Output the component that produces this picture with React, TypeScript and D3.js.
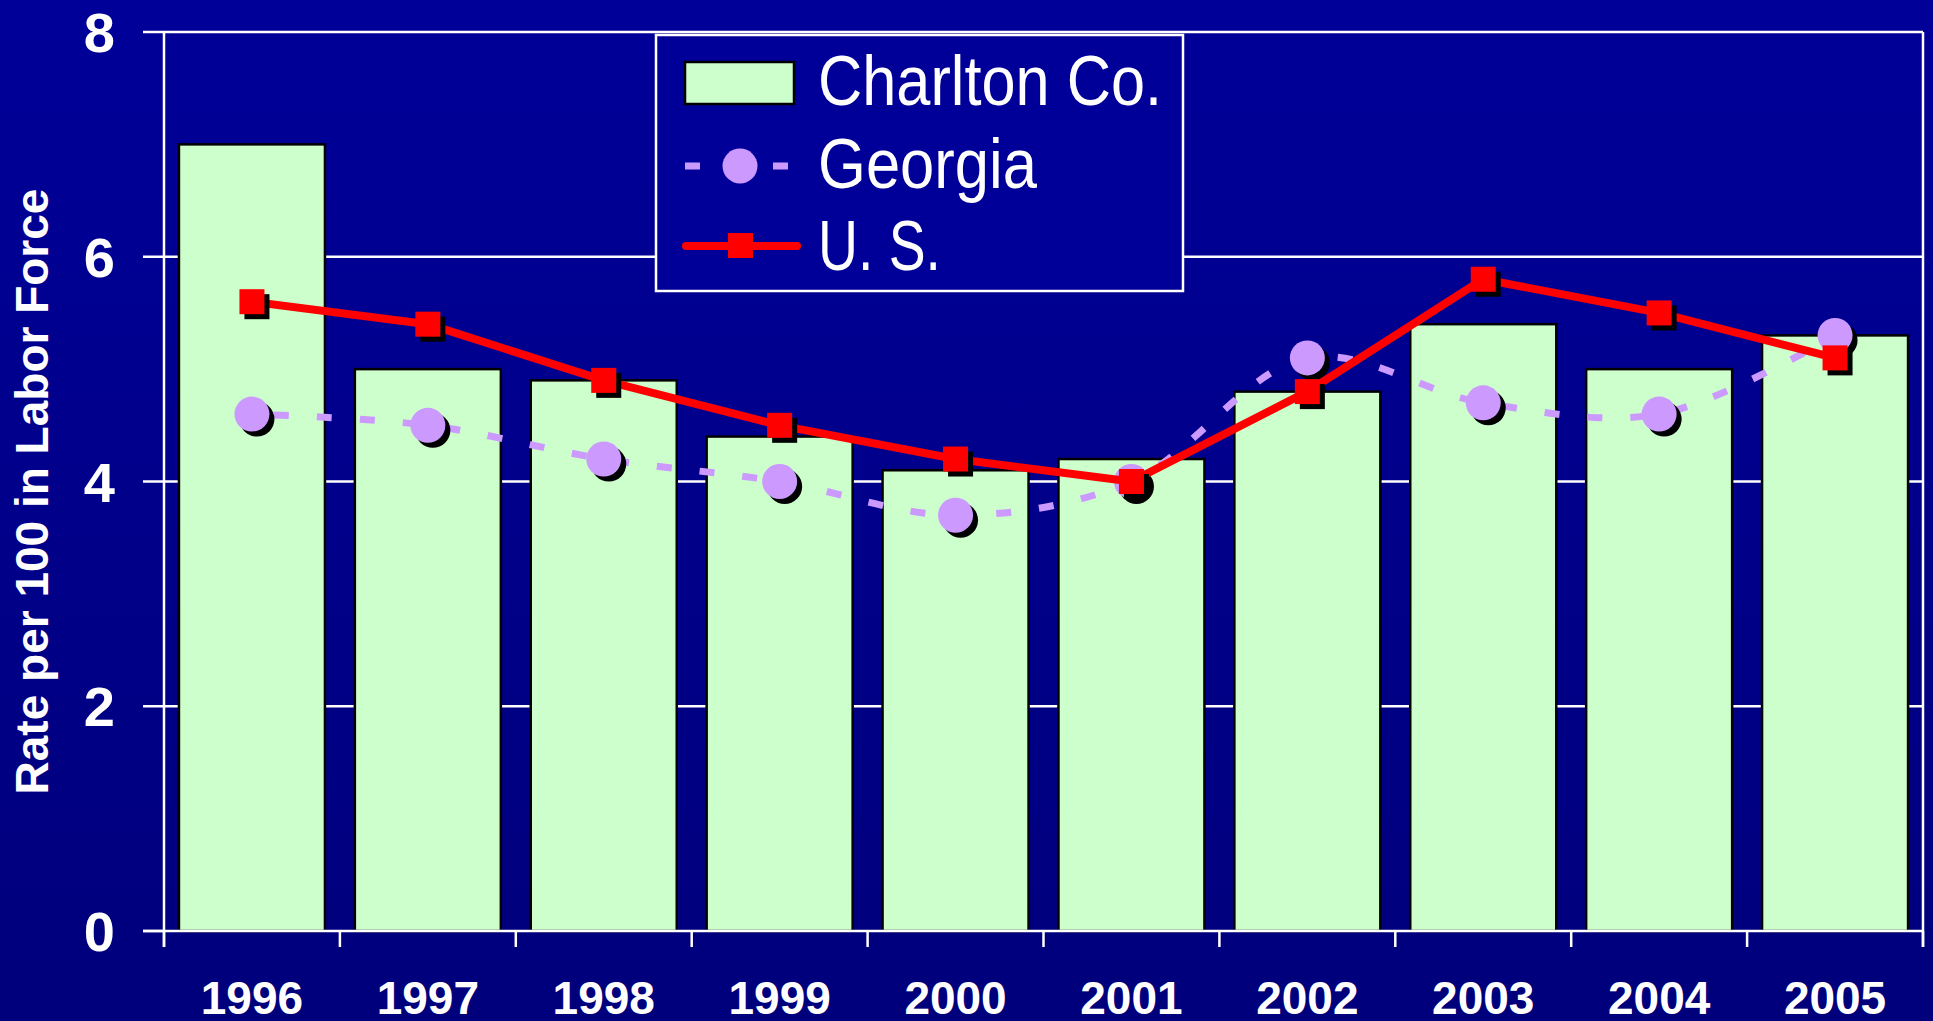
import React from 'react';
import * as d3 from 'd3';

const years = ['1996', '1997', '1998', '1999', '2000', '2001', '2002', '2003', '2004', '2005'];
const charlton = [7.0, 5.0, 4.9, 4.4, 4.1, 4.2, 4.8, 5.4, 5.0, 5.3];
const georgia = [4.6, 4.5, 4.2, 4.0, 3.7, 4.0, 5.1, 4.7, 4.6, 5.3];
const us = [5.6, 5.4, 4.9, 4.5, 4.2, 4.0, 4.8, 5.8, 5.5, 5.1];
const yTicks = [0, 2, 4, 6, 8];
const seriesNames = ['Charlton Co.', 'Georgia', 'U. S.'];
const legendWidths = [344, 219, 123];
const yTitle = 'Rate per 100 in Labor Force';

const W = 1933;
const H = 1021;
const left = 164;
const right = 1923;
const top = 32;
const bottom = 931;

const BAR = '#CCFFCC';
const GA = '#CC99FF';
const US = '#FF0000';
const BOLD = 'Liberation Sans, Arial, sans-serif';
const NARROW = '"Liberation Sans Narrow", "Arial Narrow", "Liberation Sans", sans-serif';

export default function App() {
  const x = d3.scaleBand<string>().domain(years).range([left, right]).paddingInner(0.17).paddingOuter(0.085);
  const y = d3.scaleLinear().domain([0, 8]).range([bottom, top]);
  const cx = (yr: string) => (x(yr) as number) + x.bandwidth() / 2;
  const step = x.step();

  const gaLine = d3
    .line<number>()
    .x((_, i) => cx(years[i]))
    .y((v) => y(v))
    .curve(d3.curveCatmullRom.alpha(0.5));
  const usLine = d3
    .line<number>()
    .x((_, i) => cx(years[i]))
    .y((v) => y(v));

  const sq = 25;
  const r = 17.5;
  const sh = 5;

  const tickPositions = d3.range(years.length + 1).map((i) => left + i * step);

  return (
    <div style={{ position: 'absolute', left: 0, top: 0 }}>
      <svg width={W} height={H} style={{ display: 'block' }}>
        <defs>
          <linearGradient id="bg" x1="0" y1="0" x2="0" y2="1">
            <stop offset="0" stopColor="#000099" />
            <stop offset="1" stopColor="#00007C" />
          </linearGradient>
        </defs>
        <rect x={0} y={0} width={W} height={H} fill="url(#bg)" />

        {/* gridlines */}
        {yTicks.filter((t) => t > 0).map((t) => (
          <line key={'g' + t} x1={left} x2={right} y1={y(t)} y2={y(t)} stroke="#fff" strokeWidth={2.5} />
        ))}

        {/* bars */}
        {years.map((yr, i) => (
          <rect
            key={'b' + yr}
            x={x(yr)}
            y={y(charlton[i])}
            width={x.bandwidth()}
            height={y(0) - y(charlton[i])}
            fill={BAR}
            stroke="#000"
            strokeWidth={2.5}
          />
        ))}

        {/* axes */}
        <line x1={left} x2={left} y1={top} y2={bottom + 16} stroke="#fff" strokeWidth={2.5} />
        <line x1={right} x2={right} y1={top} y2={bottom + 16} stroke="#fff" strokeWidth={2.5} />
        <line x1={left - 21} x2={right} y1={bottom} y2={bottom} stroke="#fff" strokeWidth={2.5} />
        {yTicks.map((t) => (
          <line key={'yt' + t} x1={left - 21} x2={left} y1={y(t)} y2={y(t)} stroke="#fff" strokeWidth={2.5} />
        ))}
        {tickPositions.map((p, i) => (
          <line key={'xt' + i} x1={p} x2={p} y1={bottom} y2={bottom + 16} stroke="#fff" strokeWidth={2.5} />
        ))}

        {/* Georgia */}
        <path
          d={gaLine(georgia) || ''}
          fill="none"
          stroke={GA}
          strokeWidth={7}
          strokeDasharray="15 28"
          strokeDashoffset={-22}
        />
        {georgia.map((v, i) => (
          <circle key={'gs' + i} cx={cx(years[i]) + sh} cy={y(v) + sh} r={r} fill="#000" />
        ))}
        {georgia.map((v, i) => (
          <circle key={'gm' + i} cx={cx(years[i])} cy={y(v)} r={r} fill={GA} />
        ))}

        {/* US */}
        <path d={usLine(us) || ''} fill="none" stroke={US} strokeWidth={8} strokeLinejoin="round" />
        {us.map((v, i) => (
          <rect key={'us' + i} x={cx(years[i]) - sq / 2 + sh} y={y(v) - sq / 2 + sh} width={sq} height={sq} fill="#000" />
        ))}
        {us.map((v, i) => (
          <rect key={'um' + i} x={cx(years[i]) - sq / 2} y={y(v) - sq / 2} width={sq} height={sq} fill={US} />
        ))}

        {/* y tick labels */}
        {yTicks.map((t) => (
          <text
            key={'yl' + t}
            x={115}
            y={y(t)}
            dy="0.36em"
            textAnchor="end"
            fill="#fff"
            fontFamily={BOLD}
            fontWeight="bold"
            fontSize={56}
          >
            {t}
          </text>
        ))}

        {/* x labels */}
        {years.map((yr) => (
          <text
            key={'xl' + yr}
            x={cx(yr)}
            y={1014}
            textAnchor="middle"
            fill="#fff"
            fontFamily={BOLD}
            fontWeight="bold"
            fontSize={46}
          >
            {yr}
          </text>
        ))}

        {/* y title */}
        <text
          transform={`translate(48, ${(top + bottom) / 2 + 10}) rotate(-90)`}
          textAnchor="middle"
          fill="#fff"
          fontFamily={BOLD}
          fontWeight="bold"
          fontSize={46}
        >
          {yTitle}
        </text>

        {/* legend */}
        <g>
          <rect x={656} y={35} width={527} height={256} fill="#000099" stroke="#fff" strokeWidth={2.5} />
          <rect x={685} y={62} width={109} height={42} fill={BAR} stroke="#000" strokeWidth={2.5} />
          <line x1={685} x2={700} y1={166} y2={166} stroke={GA} strokeWidth={7} />
          <line x1={773} x2={788} y1={166} y2={166} stroke={GA} strokeWidth={7} />
          <circle cx={740} cy={166} r={17.5} fill={GA} />
          <line x1={686} x2={797} y1={246} y2={246} stroke={US} strokeWidth={8} strokeLinecap="round" />
          <rect x={728} y={233} width={25} height={25} fill={US} />
          {seriesNames.map((n, i) => (
            <text
              key={'lg' + i}
              x={818}
              y={105 + i * 82.5}
              fill="#fff"
              fontFamily={NARROW}
              fontSize={70}
              textLength={legendWidths[i]}
              lengthAdjust="spacingAndGlyphs"
            >
              {n}
            </text>
          ))}
        </g>
      </svg>
    </div>
  );
}
